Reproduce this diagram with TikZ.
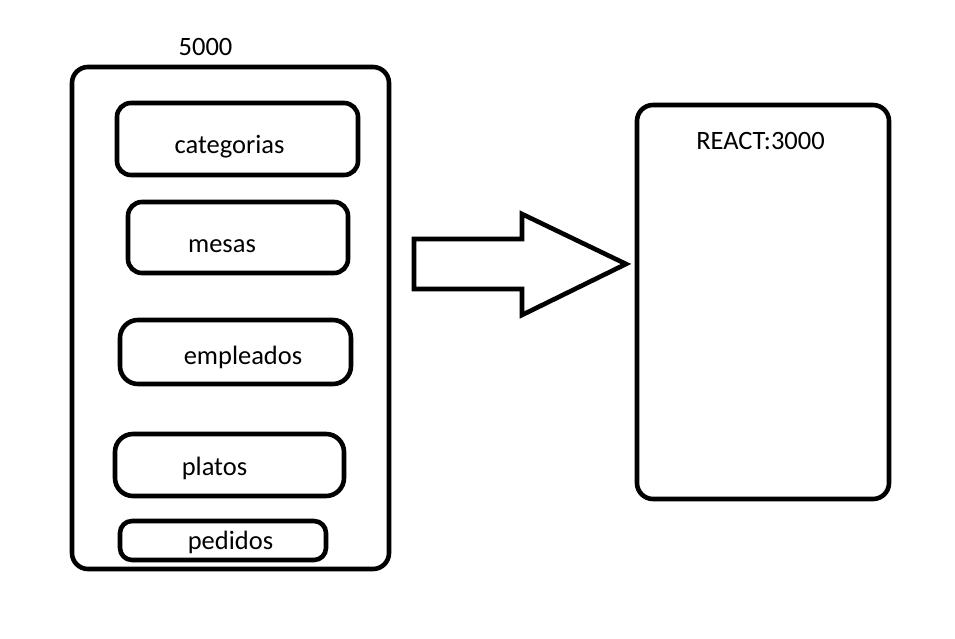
\documentclass[tikz,border=0pt]{standalone}
\usepackage{fontspec}
\setmainfont{Carlito}
\usepackage{tikz}

\begin{document}
\begin{tikzpicture}[x=1pt,y=-1pt,line width=4.6pt,
  kasten/.style={draw,rounded corners=#1,inner sep=0pt},
  kasten/.default=14pt,
  schrift/.style={anchor=base,inner sep=0pt,font=\fontsize{26.5}{30}\selectfont}]
\useasboundingbox (0,0) rectangle (955,639);

%Kästen
\node[kasten=16pt,minimum width=317pt,minimum height=502pt] (server) at (230.5,318) {};
\node[kasten,minimum width=241pt,minimum height=72pt] (categorias) at (237.5,139) {};
\node[kasten,minimum width=220pt,minimum height=71pt] (mesas) at (238,237.5) {};
\node[kasten=18pt,minimum width=231pt,minimum height=64pt] (empleados) at (235.5,352) {};
\node[kasten=18pt,minimum width=229pt,minimum height=62pt] (platos) at (229.5,465) {};
\node[kasten=12pt,minimum width=206pt,minimum height=39pt] (pedidos) at (223,540.5) {};
\node[kasten=16pt,minimum width=252pt,minimum height=394pt] (react) at (763,302) {};

%Beschriftung
\node[schrift] (t5000) at (205.5,56) {5000};
\node[schrift] (tcat) at (229.5,154) {categorias};
\node[schrift] (tmes) at (222,252) {mesas};
\node[schrift] (temp) at (243,364) {empleados};
\node[schrift] (tpla) at (214.5,475) {platos};
\node[schrift] (tped) at (230.5,549) {pedidos};
\node[schrift] (treact) at (760.5,150) {REACT:3000};

%Pfeil
\draw[line join=miter] (414,239) -- (522,239) -- (522,214) -- (626,264)
  -- (522,315) -- (522,289) -- (414,289) -- cycle;
\end{tikzpicture}
\end{document}
